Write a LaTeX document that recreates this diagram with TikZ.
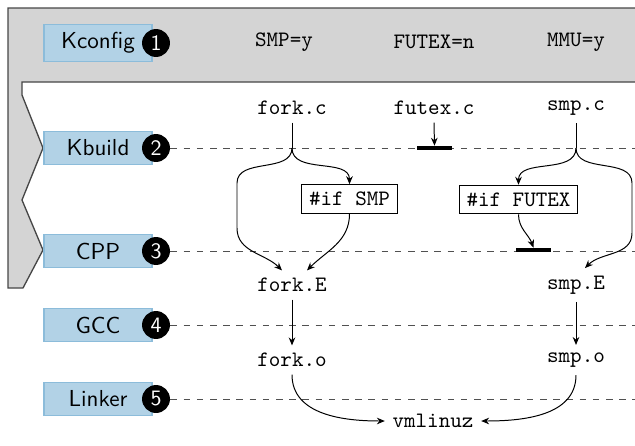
\documentclass[tikz,border=0pt]{standalone}
\usetikzlibrary{arrows.meta,calc}
\definecolor{bandgray}{RGB}{212,212,212}
\definecolor{bandedge}{RGB}{70,70,70}
\definecolor{stagefill}{RGB}{178,210,230}
\definecolor{stageedge}{RGB}{140,188,218}
\definecolor{guide}{RGB}{80,80,80}
\begin{document}
\begin{tikzpicture}[x=0.4545pt,y=0.4545pt,
  stage/.style={draw=stageedge, fill=stagefill, font=\sffamily\fontsize{10.5}{12}\selectfont,
    minimum width=49.1pt, inner xsep=2pt, inner ysep=3.6pt, line width=0.5pt},
  num/.style={circle, fill=black, text=white, font=\sffamily\fontsize{10}{12}\selectfont,
    minimum size=12.7pt, inner sep=0pt},
  file/.style={font=\ttfamily},
  cond/.style={draw, font=\ttfamily, line width=0.5pt},
  bar/.style={fill=black, minimum width=15.9pt, minimum height=1.7pt, inner sep=0pt},
  guideline/.style={dashed, draw=guide, line width=0.45pt},
  flow/.style={-{Stealth[length=3.6pt,width=3pt]}, line width=0.45pt},
  plain/.style={line width=0.45pt},
]
\useasboundingbox (0,0) rectangle (635,445);
\clip (0,0) rectangle (635,445);

% configuration band with the notched build-stage edge
\filldraw[fill=bandgray, draw=bandedge, line width=0.6pt]
  (8,437) -- (650,437) -- (650,363) -- (22,363) -- (22,350) -- (43,297)
  -- (22,245) -- (43,195) -- (23,157) -- (8,157) -- cycle;

% build stages
\node[stage] (kconfig) at (98,402) {Kconfig};
\node[stage] (kbuild)  at (98,297) {Kbuild};
\node[stage] (cpp)     at (98,194) {CPP};
\node[stage] (gcc)     at (98,120) {GCC};
\node[stage] (linker)  at (98,46)  {Linker};
\node[num] (n1) at (156,402) {1};
\node[num] (n2) at (156,297) {2};
\node[num] (n3) at (156,194) {3};
\node[num] (n4) at (156,120) {4};
\node[num] (n5) at (156,46)  {5};

% stage guide lines
\coordinate (edge) at (635,0);
\draw[guideline] (n2.east) -- (n2 -| edge);
\draw[guideline] (n3.east) -- (n3 -| edge);
\draw[guideline] (n4.east) -- (n4 -| edge);
\draw[guideline] (n5.east) -- (n5 -| edge);

% configuration symbols
\node[file] (smpcfg)   at (284,403) {SMP=y};
\node[file] (futexcfg) at (434,403) {FUTEX=n};
\node[file] (mmucfg)   at (576,403) {MMU=y};

% sources and intermediate files
\node[file] (forkc)  at (292,337) {fork.c};
\node[file] (futexc) at (434,337) {futex.c};
\node[file] (smpc)   at (576,337) {smp.c};
\node[cond] (ifsmp)   at (349.5,246) {\#if SMP};
\node[cond] (iffutex) at (518.5,245.5) {\#if FUTEX};
\node[bar] (futexbar) at (434.5,297) {};
\node[bar] (cppbar)   at (533.5,195) {};
\node[file] (forkE) at (292,160) {fork.E};
\node[file] (smpE)  at (576,160) {smp.E};
\node[file] (forko) at (292,85) {fork.o};
\node[file] (smpo)  at (576,85) {smp.o};
\node[file] (vmlinuz) at (433,24) {vmlinuz};

\coordinate (jf) at (forkc |- n2);
\coordinate (js) at (smpc |- n2);

% fork.c
\draw[plain] (forkc.south) -- (jf);
\draw[flow] (jf) to[out=-90,in=90] (ifsmp.north);
\draw[flow] (jf) to[out=-90,in=90] ++(-55,-35) -- ++(0,-45)
  to[out=-90,in=135] ($(forkE.north)+(-10,0)$);
\draw[flow] (ifsmp.south) to[out=-90,in=45] ($(forkE.north)+(15,0)$);

% futex.c is dropped by Kbuild
\draw[flow] (futexc.south) -- (futexbar.north);

% smp.c
\draw[plain] (smpc.south) -- (js);
\draw[flow] (js) to[out=-90,in=90] (iffutex.north);
\draw[flow] (js) to[out=-90,in=90] ++(56,-35) -- ++(0,-50)
  to[out=-90,in=45] ($(smpE.north)+(9,0)$);
\draw[flow] (iffutex.south) to[out=-90,in=110] (cppbar.north);

% compile and link
\draw[flow] (forkE) -- (forko);
\draw[flow] (smpE) -- (smpo);
\draw[flow] (forko.south) to[out=-90,in=180] (vmlinuz.west);
\draw[flow] (smpo.south) to[out=-90,in=0] (vmlinuz.east);
\end{tikzpicture}
\end{document}
